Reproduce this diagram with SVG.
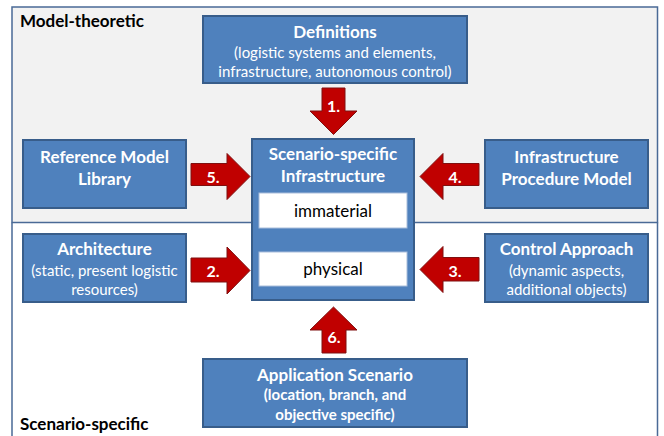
<svg xmlns="http://www.w3.org/2000/svg" width="664" height="436" viewBox="0 0 664 436">
<style>
.box{fill:#4F81BD;stroke:#385D8A;stroke-width:2}
.wb{fill:#FFFFFF;stroke:#A9BEDB;stroke-width:1}
.arr{fill:#C00000;stroke:#7F1010;stroke-width:1}
.t{font-family:Lato,"Liberation Sans",sans-serif;fill:#FFFFFF;text-anchor:middle}
.b{font-weight:bold;font-size:17px}
.s{font-size:15px}
.sb{font-weight:bold;font-size:15px}
.k{font-family:Lato,"Liberation Sans",sans-serif;fill:#000000;font-size:17px}
.n{font-family:Lato,"Liberation Sans",sans-serif;fill:#FFFFFF;font-weight:bold;font-size:16px;text-anchor:middle}
</style>
<rect width="664" height="436" fill="#FFFFFF"/>
<g id="region-model">
<rect x="12" y="7" width="645.5" height="215.5" fill="#F2F2F2" stroke="#4A6A96" stroke-width="1.5"/>
<text x="20" y="27" class="k" font-weight="bold">Model-theoretic</text>
</g>
<g id="region-scenario">
<path d="M12 222.5 V437 M657.5 222.5 V437" fill="none" stroke="#4A6A96" stroke-width="1.5"/>
<text x="20" y="430" class="k" font-weight="bold">Scenario-specific</text>
</g>
<g id="connectors">
<g id="arrow1"><path class="arr" d="M322 88 H345 V111 H357 L333.5 134.5 L310 111 H322 Z"/><text class="n" x="333.5" y="112">1.</text></g>
<g id="arrow5"><path class="arr" d="M191 163.5 H227 V153.5 L250 176.5 L227 199.5 V185.5 H191 Z"/><text class="n" x="213" y="183">5.</text></g>
<g id="arrow4"><path class="arr" d="M479 163.5 H443 V153.5 L420 176.5 L443 199.5 V185.5 H479 Z"/><text class="n" x="455" y="183">4.</text></g>
<g id="arrow2"><path class="arr" d="M191 258 H227 V247 L250 270.5 L227 294 V282 H191 Z"/><text class="n" x="213" y="277">2.</text></g>
<g id="arrow3"><path class="arr" d="M479 257.5 H443 V246.5 L420 269.5 L443 292.5 V281 H479 Z"/><text class="n" x="455" y="277">3.</text></g>
<g id="arrow6"><path class="arr" d="M322 353 H346 V330 H357 L333.5 307 L310 330 H322 Z"/><text class="n" x="334" y="343">6.</text></g>
</g>
<g id="definitions">
<rect class="box" x="203" y="16" width="264" height="67"/>
<text class="t b" x="335" y="38">Definitions</text>
<text class="t s" x="335" y="58">(logistic systems and elements,</text>
<text class="t s" x="335" y="77">infrastructure, autonomous control)</text>
</g>
<g id="reference-model-library">
<rect class="box" x="23" y="140" width="163" height="68"/>
<text class="t b" x="104.5" y="163">Reference Model</text>
<text class="t b" x="104.5" y="185">Library</text>
</g>
<g id="infrastructure-procedure-model">
<rect class="box" x="485" y="140" width="163" height="68"/>
<text class="t b" x="566.5" y="163">Infrastructure</text>
<text class="t b" x="566.5" y="185">Procedure Model</text>
</g>
<g id="scenario-specific-infrastructure">
<rect class="box" x="252" y="139" width="162" height="161"/>
<text class="t b" x="333" y="160">Scenario-specific</text>
<text class="t b" x="333" y="182">Infrastructure</text>
<rect class="wb" x="259" y="193" width="148" height="35"/>
<text class="k" x="333" y="217" text-anchor="middle">immaterial</text>
<rect class="wb" x="259" y="252" width="148" height="34"/>
<text class="k" x="333" y="275" text-anchor="middle">physical</text>
</g>
<g id="architecture">
<rect class="box" x="23" y="234" width="163" height="68"/>
<text class="t b" x="104.5" y="255">Architecture</text>
<text class="t s" x="104.5" y="276">(static, present logistic</text>
<text class="t s" x="104.5" y="295">resources)</text>
</g>
<g id="control-approach">
<rect class="box" x="485" y="234" width="163" height="68"/>
<text class="t b" x="566.5" y="255">Control Approach</text>
<text class="t s" x="566.5" y="276">(dynamic aspects,</text>
<text class="t s" x="566.5" y="295">additional objects)</text>
</g>
<g id="application-scenario">
<rect class="box" x="203" y="359" width="264" height="68"/>
<text class="t b" x="335" y="381">Application Scenario</text>
<text class="t sb" x="335" y="400">(location, branch, and</text>
<text class="t sb" x="335" y="420">objective specific)</text>
</g>
</svg>
